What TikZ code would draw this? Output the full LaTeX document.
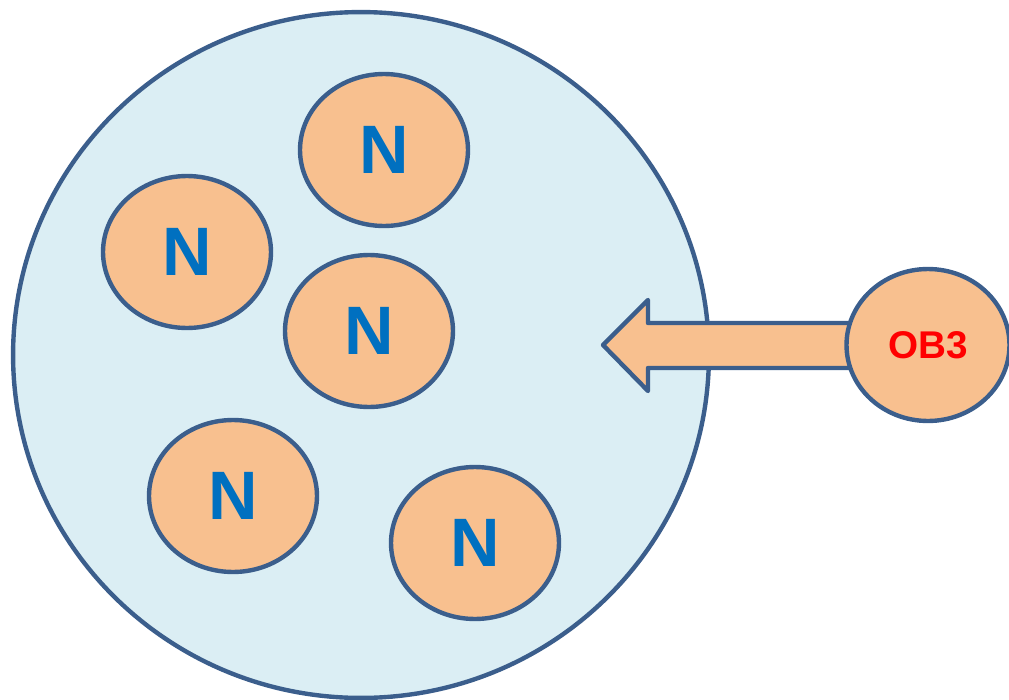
\documentclass[tikz,border=0pt]{standalone}
\usepackage{fontspec}
\setmainfont{Liberation Sans}
\usetikzlibrary{shapes.geometric}
\definecolor{edgeblue}{HTML}{3B5E8C}
\definecolor{cellfill}{HTML}{DBEEF4}
\definecolor{nucfill}{HTML}{F8C08F}
\definecolor{nblue}{HTML}{0070C0}
\tikzset{
cell/.style = {draw=edgeblue, fill=cellfill, line width=2.5pt, ellipse, minimum width=13.92cm, minimum height=13.72cm},
nuc/.style = {draw=edgeblue, fill=nucfill, line width=2.5pt, ellipse, minimum width=3.36cm, minimum height=3.04cm, text=nblue, font=\fontsize{39}{40}\selectfont\bfseries},
obj/.style = {draw=edgeblue, fill=nucfill, line width=2.5pt, ellipse, minimum width=3.26cm, minimum height=3.04cm, text=red, font=\fontsize{22}{24}\selectfont\bfseries},
}

\begin{document}
\begin{tikzpicture}[x=0.02cm, y=-0.02cm]
	\useasboundingbox (0,0) rectangle (1009,700);

	\node[cell] (cell) at (361,355) {};
	\node[nuc] (n1) at (384,150) {N};
	\node[nuc] (n2) at (187,252) {N};
	\node[nuc] (n3) at (369,331) {N};
	\node[nuc] (n4) at (233,496) {N};
	\node[nuc] (n5) at (475,543) {N};

	\draw[draw=edgeblue, fill=nucfill, line width=2.5pt, line join=round] (603,345) -- (648,300) -- (648,323) -- (870,323) -- (870,368) -- (648,368) -- (648,391) -- cycle;
	\node[obj] (ob3) at (928,345) {OB3};

\end{tikzpicture}
\end{document}
